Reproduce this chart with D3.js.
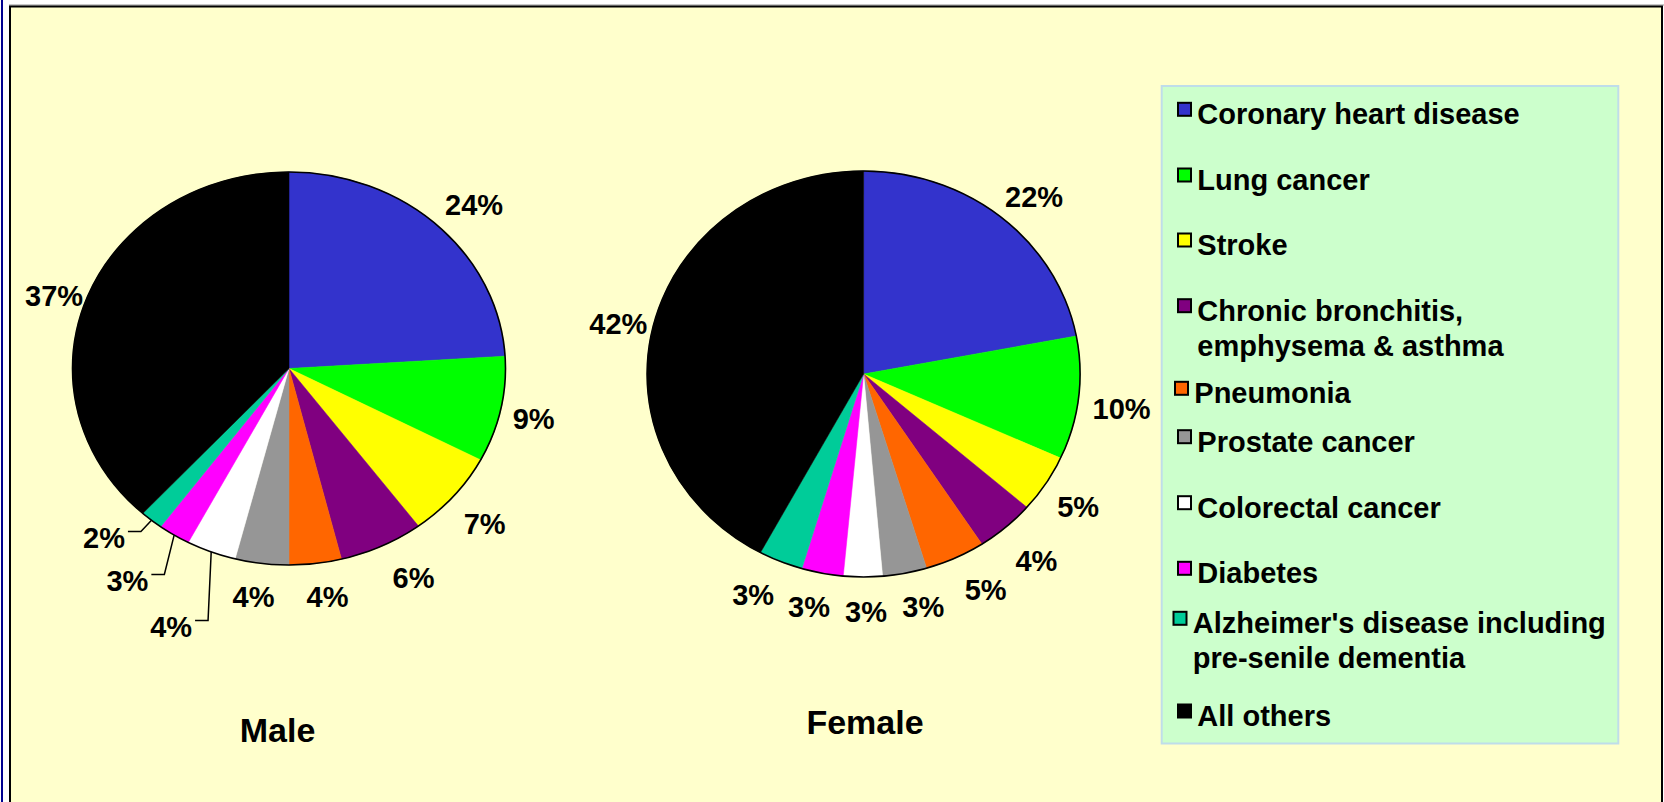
<!DOCTYPE html>
<html><head><meta charset="utf-8">
<script src="https://cdn.jsdelivr.net/npm/d3@7"></script>
<style>html,body{margin:0;padding:0;background:#fff;overflow:hidden}</style>
</head><body>
<svg id="c" width="1664" height="802"></svg>
<script>
// ---- data ----
const categories = ["Coronary heart disease","Lung cancer","Stroke","Chronic bronchitis, emphysema & asthma","Pneumonia","Prostate cancer","Colorectal cancer","Diabetes","Alzheimer's disease including pre-senile dementia","All others"];
const legendLines = [["Coronary heart disease"],["Lung cancer"],["Stroke"],["Chronic bronchitis,","emphysema & asthma"],["Pneumonia"],["Prostate cancer"],["Colorectal cancer"],["Diabetes"],["Alzheimer's disease including","pre-senile dementia"],["All others"]];
const colors = ["#3333CC","#00FF00","#FFFF00","#800080","#FF6600","#969696","#FFFFFF","#FF00FF","#00CC99","#000000"];
// slice sizes (percent)
const maleValues = [24.0,8.7,7.1,6.3,3.9,4.0,3.7,2.4,1.7,38.2];
const femaleValues = [22.0,9.8,4.6,4.4,4.5,3.3,2.9,3.1,3.3,42.1];
// percentage labels as printed on the picture
const maleLabels = ["24%","9%","7%","6%","4%","4%","4%","3%","2%","37%"];
const femaleLabels = ["22%","10%","5%","4%","5%","3%","3%","3%","3%","42%"];
const pieTitles = ["Male","Female"];

// ---- layout ----
const FONT = "'Liberation Sans', Arial, sans-serif";
const pies = [
  {title:pieTitles[0], values:maleValues, labels:maleLabels, cx:289, cy:368.5, rx:216.5, ry:196.5, titleX:277.5, titleY:741.7,
   push:[0,0,0,0,0,0,50,28,8,0],
   nudge:[[2,3],[-9.1,2.2],[-1.6,5.8],[13.3,1.3],[6.8,0],[-3,0],[-6.7,-2.9],[-9.1,-6.3],[-15.2,-14.4],[14.4,10]]},
  {title:pieTitles[1], values:femaleValues, labels:femaleLabels, cx:863.6, cy:374, rx:216.5, ry:203, titleX:865, titleY:734,
   push:[0,0,0,0,0,0,0,0,0,0],
   nudge:[[0,4],[-7.6,6.1],[-3.6,5.3],[2.4,8.2],[12.3,1.4],[10.2,0.9],[3.3,1.7],[-5.2,0.5],[-11.2,2.6],[14,7.8]]}
];
const legendBox = {x:1161.7, y:86, w:456.6, h:657.5};
const legendBaselines = [124.3,190,255,320.7,403.3,451.7,517.7,583.3,633.3,726];
const legendNudge = [0,0,0,0,-3,0,0,0,-4.5,0];

const svg = d3.select("#c");

// page frame
svg.append("rect").attr("x",1).attr("y",0).attr("width",2).attr("height",802).attr("fill","#000090");
svg.append("line").attr("x1",9).attr("x2",1664).attr("y1",5).attr("y2",5).attr("stroke","#909090").attr("stroke-width",1);
svg.append("rect").attr("x",10).attr("y",6.5).attr("width",1652).attr("height",820)
  .attr("fill","#FFFFCC").attr("stroke","#000").attr("stroke-width",2);

// pies
const pieGen = d3.pie().sort(null).value(d=>d);
pies.forEach(p=>{
  const arcs = pieGen(p.values);
  const arc = d3.arc().innerRadius(0).outerRadius(p.ry);
  const g = svg.append("g").attr("transform",`translate(${p.cx},${p.cy}) scale(${p.rx/p.ry},1)`);
  g.selectAll("path").data(arcs).enter().append("path")
    .attr("d",arc).attr("fill",(d,i)=>colors[i])
    .attr("stroke",(d,i)=>colors[i]).attr("stroke-width",0.5);
  svg.append("ellipse").attr("cx",p.cx).attr("cy",p.cy).attr("rx",p.rx).attr("ry",p.ry)
    .attr("fill","none").attr("stroke","#000").attr("stroke-width",1.6);

  const gap = 22, h = 22;
  arcs.forEach((a,i)=>{
    const mid = (a.startAngle+a.endAngle)/2;
    const s = Math.sin(mid), c = -Math.cos(mid);
    const t = svg.append("text").attr("font-family",FONT).attr("font-weight","bold")
      .attr("font-size",29).attr("text-anchor","middle").attr("fill","#000")
      .text(p.labels[i]);
    const w = t.node().getComputedTextLength();
    const push = p.push[i];
    const x = p.cx + (p.rx+gap+push)*s + s*w/2 + p.nudge[i][0];
    const yc = p.cy + (p.ry+gap+push)*c + c*h/2 + p.nudge[i][1];
    t.attr("x",x).attr("y",yc+10.4);
    if(push>0){
      const sx = p.cx + p.rx*s, sy = p.cy + p.ry*c;
      const right = x + w/2, ly = yc-6;
      svg.append("path").attr("d",`M${sx},${sy}L${right+16},${ly}L${right+3},${ly}`)
        .attr("fill","none").attr("stroke","#000").attr("stroke-width",1.5);
    }
  });
  svg.append("text").attr("x",p.titleX).attr("y",p.titleY).attr("text-anchor","middle")
    .attr("font-family",FONT).attr("font-weight","bold").attr("font-size",34).text(p.title);
});

// legend
svg.append("rect").attr("x",legendBox.x).attr("y",legendBox.y).attr("width",legendBox.w).attr("height",legendBox.h)
  .attr("fill","#CCFFCC").attr("stroke","#BFDDEA").attr("stroke-width",2);
categories.forEach((cat,i)=>{
  const by = legendBaselines[i], nx = legendNudge[i];
  svg.append("rect").attr("x",1178+nx).attr("y",by-21.5).attr("width",13).attr("height",13)
    .attr("fill",colors[i]).attr("stroke","#000").attr("stroke-width",2);
  const t = svg.append("text").attr("x",1197.3+nx).attr("y",by)
    .attr("font-family",FONT).attr("font-weight","bold").attr("font-size",29).attr("fill","#000");
  legendLines[i].forEach((ln,j)=>{
    t.append("tspan").attr("x",1197.3+nx).attr("dy",j===0?0:35).text(ln);
  });
});
</script>
</body></html>
